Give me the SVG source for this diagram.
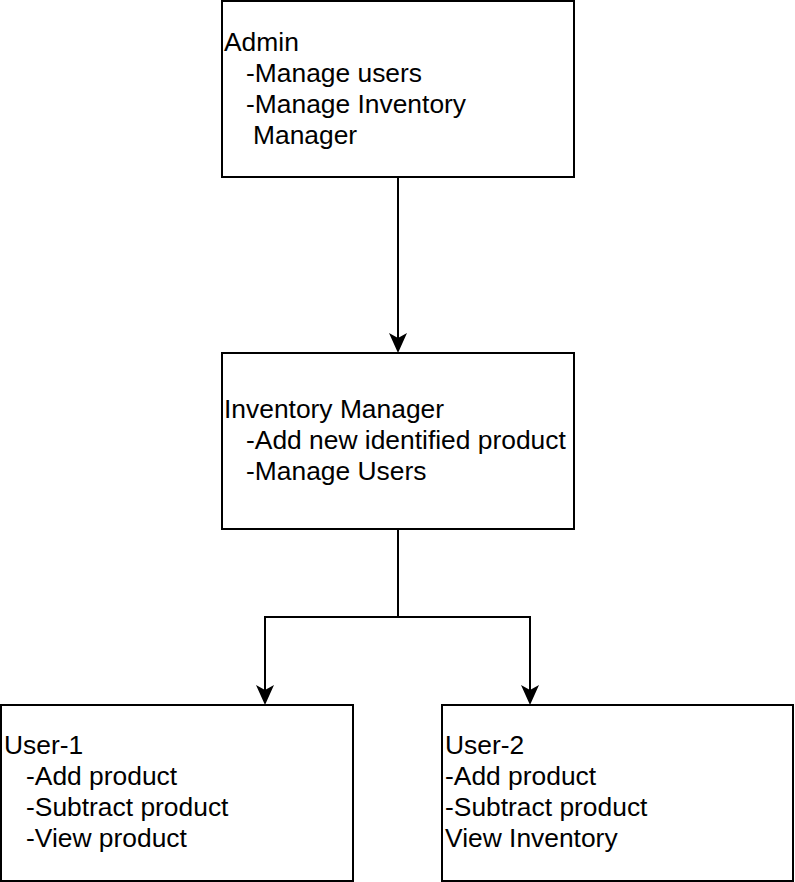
<svg xmlns="http://www.w3.org/2000/svg" width="795" height="882" viewBox="0 0 795 882">
  <style>
    .box { fill: #ffffff; stroke: #000000; stroke-width: 2; }
    .lbl { font-family: "Liberation Sans", Arial, sans-serif; font-size: 26.4px; fill: #000000; }
    .edge { fill: none; stroke: #000000; stroke-width: 2; }
  </style>
  <defs>
    <marker id="arrow" markerUnits="userSpaceOnUse" markerWidth="22" markerHeight="20" refX="16" refY="9" orient="auto" viewBox="0 0 22 20">
      <path d="M0,0 L20,9 L0,18 L5,9 Z" fill="#000000"/>
    </marker>
  </defs>
  <rect width="795" height="882" fill="#ffffff"/>

  <g id="connectors">
    <path class="edge" d="M398,177 L398,349" marker-end="url(#arrow)"/>
    <path class="edge" d="M398,529 L398,617 L265,617 L265,701" marker-end="url(#arrow)"/>
    <path class="edge" d="M398,617 L530,617 L530,701" marker-end="url(#arrow)"/>
  </g>

  <g id="admin">
    <rect class="box" x="222" y="1" width="352" height="176"/>
    <text class="lbl" x="224" y="51">Admin</text>
    <text class="lbl" x="246" y="82">-Manage users</text>
    <text class="lbl" x="246" y="113">-Manage Inventory</text>
    <text class="lbl" x="253" y="144">Manager</text>
  </g>

  <g id="inventory-manager">
    <rect class="box" x="222" y="353" width="352" height="176"/>
    <text class="lbl" x="224" y="418">Inventory Manager</text>
    <text class="lbl" x="246" y="449">-Add new identified product</text>
    <text class="lbl" x="246" y="480">-Manage Users</text>
  </g>

  <g id="user-1">
    <rect class="box" x="1" y="705" width="352" height="176"/>
    <text class="lbl" x="4" y="754">User-1</text>
    <text class="lbl" x="26" y="785">-Add product</text>
    <text class="lbl" x="26" y="816">-Subtract product</text>
    <text class="lbl" x="26" y="847">-View product</text>
  </g>

  <g id="user-2">
    <rect class="box" x="442" y="705" width="351" height="176"/>
    <text class="lbl" x="445" y="754">User-2</text>
    <text class="lbl" x="445" y="785">-Add product</text>
    <text class="lbl" x="445" y="816">-Subtract product</text>
    <text class="lbl" x="445" y="847">View Inventory</text>
  </g>
</svg>
